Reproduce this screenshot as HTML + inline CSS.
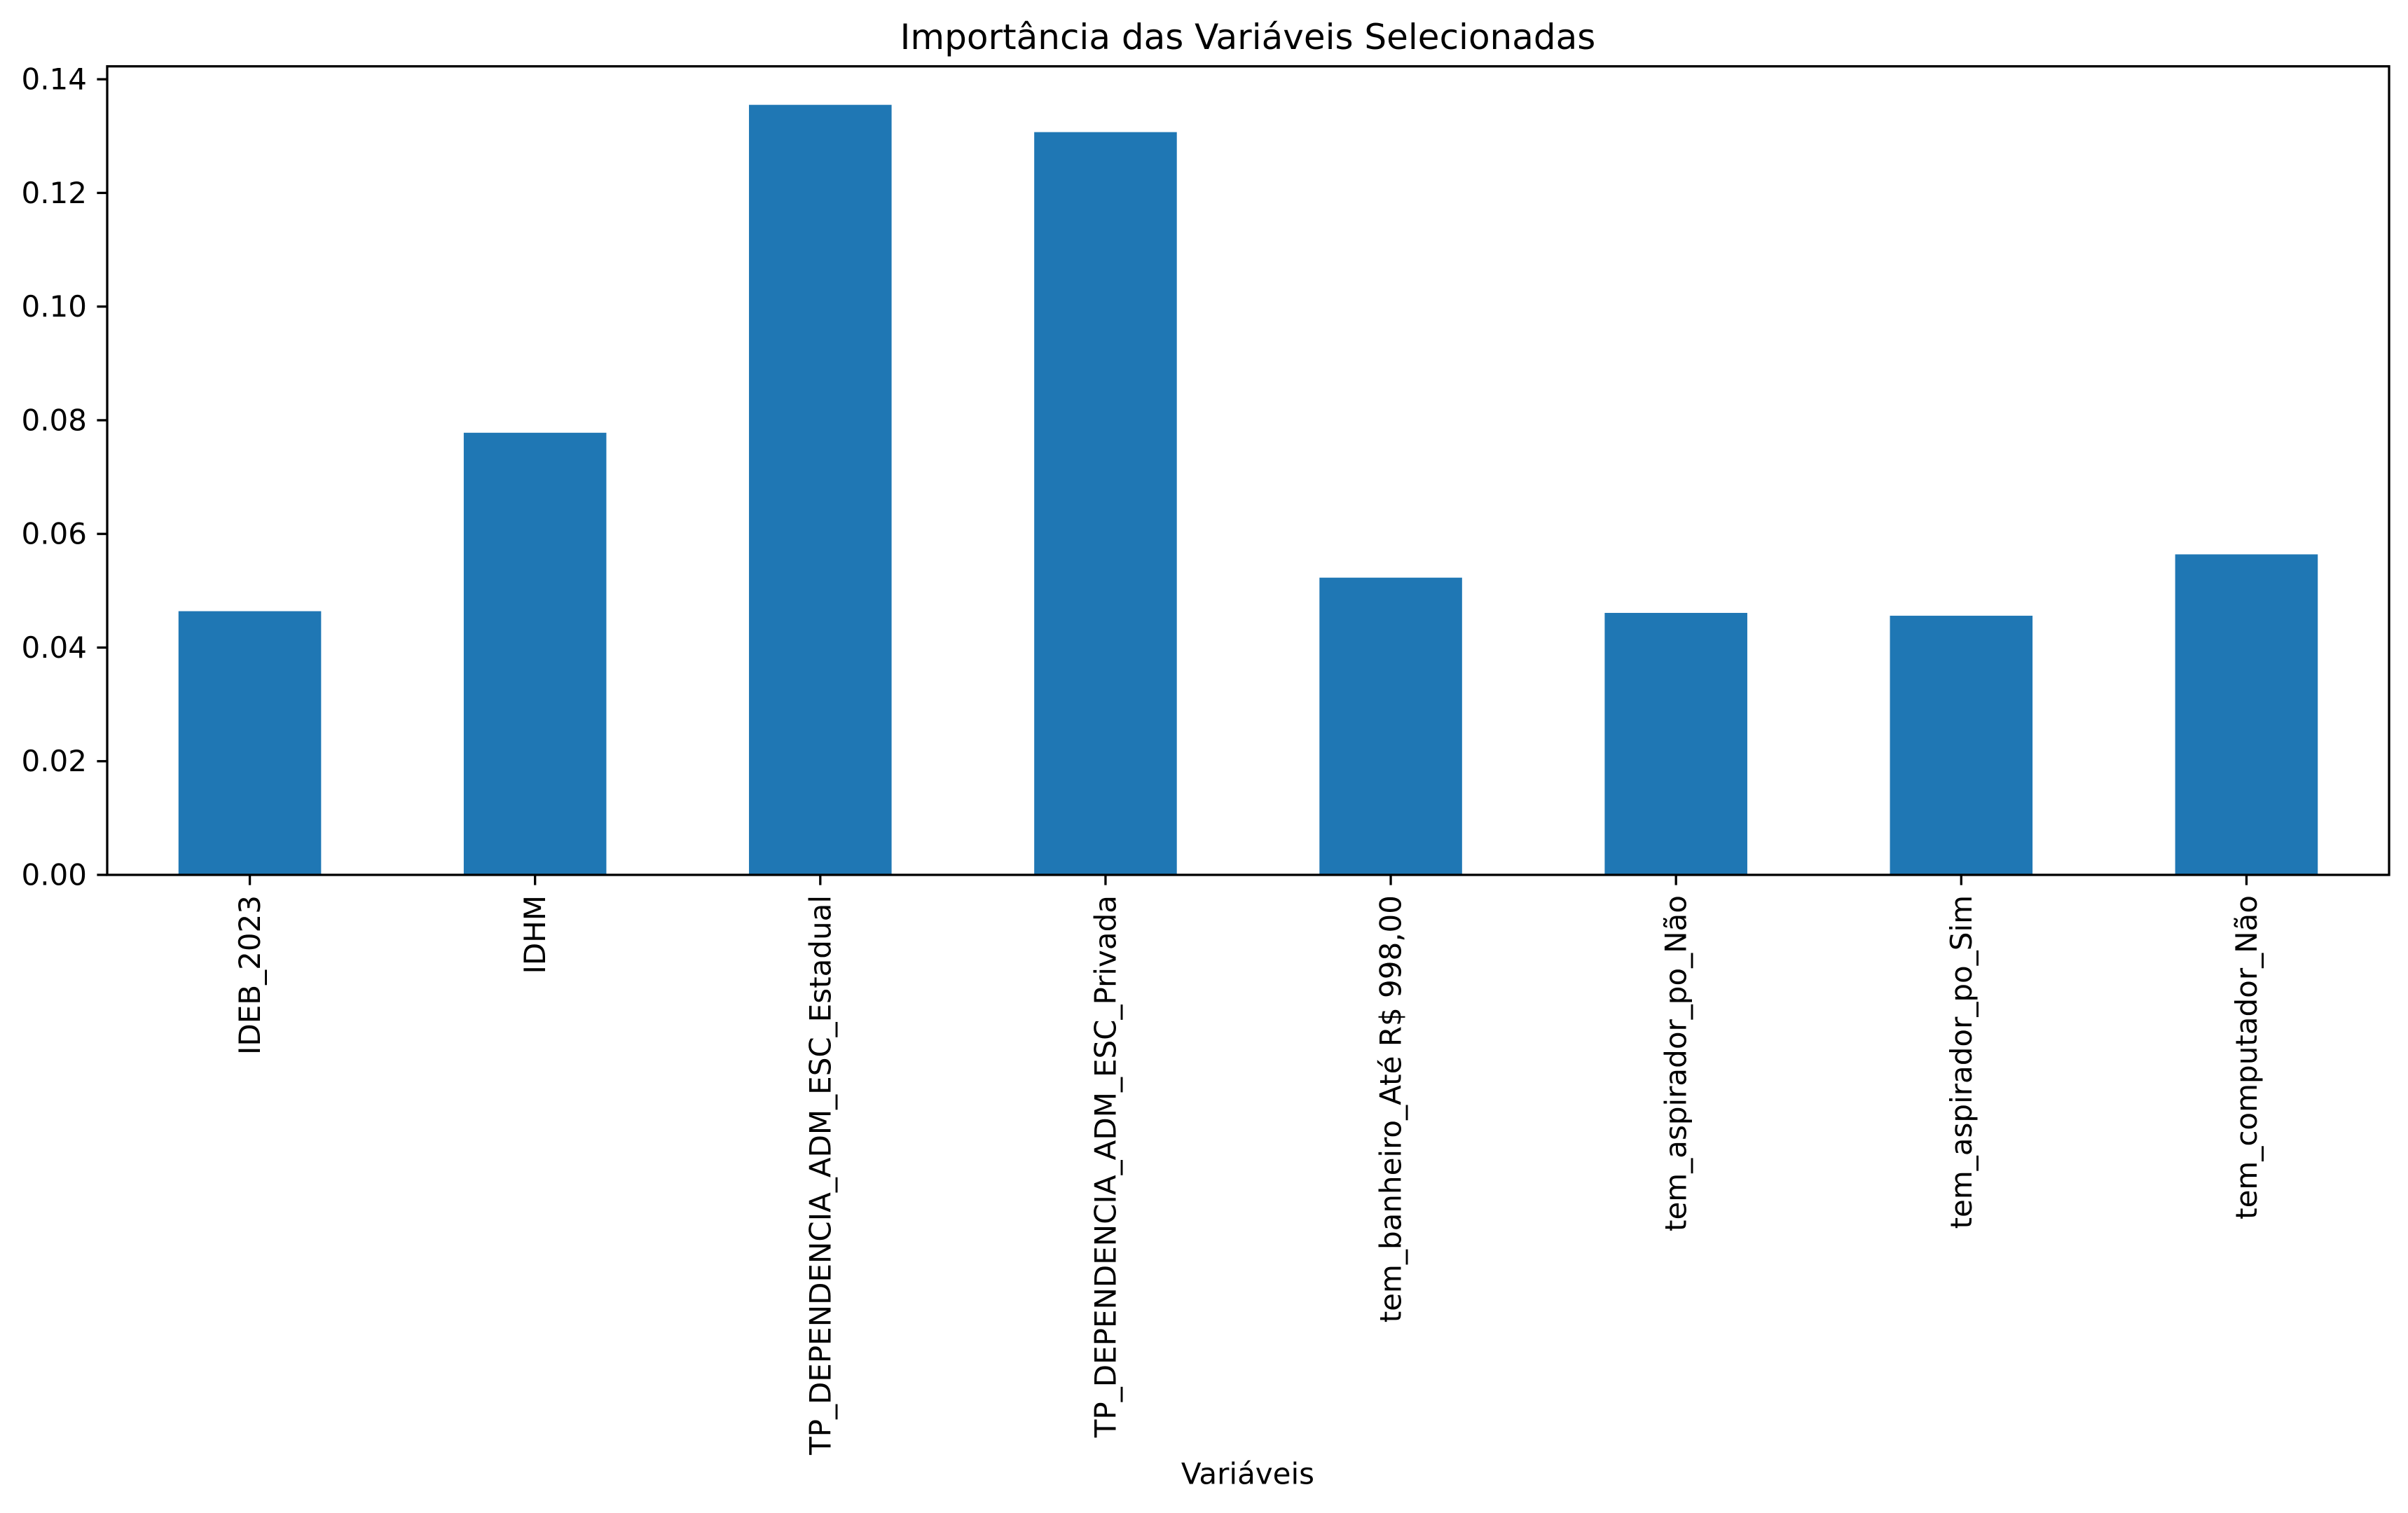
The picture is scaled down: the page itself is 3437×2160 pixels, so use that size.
<!DOCTYPE html>
<html><head><meta charset="utf-8"><style>
html,body{margin:0;padding:0;background:#fff}
svg{display:block}
text{font-family:"DejaVu Sans","Liberation Sans",sans-serif;fill:#000}
</style></head><body>
<svg id="chart" width="3437" height="2160" viewBox="0 0 3437 2160" xmlns="http://www.w3.org/2000/svg">
<rect width="3437" height="2160" fill="#fff"/>
<text x="1781" y="53" font-size="50" text-anchor="middle" dominant-baseline="central">Importância das Variáveis Selecionadas</text>
<g id="bars"></g><g id="yticks"></g><g id="xticks"></g>
<rect x="153" y="94.7" width="3257" height="1154.3" fill="none" stroke="#000" stroke-width="3.3"/>
<text x="1781" y="2104" font-size="42" text-anchor="middle" dominant-baseline="central">Variáveis</text>
</svg>
<script>
const categories = ["IDEB_2023","IDHM","TP_DEPENDENCIA_ADM_ESC_Estadual","TP_DEPENDENCIA_ADM_ESC_Privada","tem_banheiro_Até R$ 998,00","tem_aspirador_po_Não","tem_aspirador_po_Sim","tem_computador_Não"];
const values = [0.0464,0.0778,0.1355,0.1307,0.0523,0.0461,0.0456,0.0564];
const yTicks = [0,0.02,0.04,0.06,0.08,0.10,0.12,0.14];
const yTickLabels = ["0.00","0.02","0.04","0.06","0.08","0.10","0.12","0.14"];

const NS="http://www.w3.org/2000/svg";
const L=153,R=3410,T=94.7,B=1249;
const yMax=Math.max(...values)*1.05;
const y=v=>B-(v/yMax)*(B-T);
const step=(R-L)/categories.length;
const x=i=>L+step*(i+0.5);
function mk(t,a){const e=document.createElementNS(NS,t);for(const k in a)e.setAttribute(k,a[k]);return e;}
const bars=document.getElementById('bars'),yt=document.getElementById('yticks'),xt=document.getElementById('xticks');
values.forEach((v,i)=>{
  const r=mk('rect',{x:x(i)-step*0.25,y:y(v),width:step*0.5,height:B-y(v),fill:'#1f77b4'});
  
  
  bars.appendChild(r);
  const tk=mk('line',{x1:x(i),x2:x(i),y1:B,y2:B+14.6,stroke:'#000','stroke-width':3.3});
  
  
  xt.appendChild(tk);
  const tx=mk('text',{x:0,y:0,'font-size':42,'text-anchor':'end','dominant-baseline':'central',transform:`translate(${x(i)},${B+29})rotate(-90)`});
  tx.textContent=categories[i];
  
  
  xt.appendChild(tx);
});
yTicks.forEach((v,i)=>{
  const tk=mk('line',{x1:L-14.6,x2:L,y1:y(v),y2:y(v),stroke:'#000','stroke-width':3.3});
  
  
  yt.appendChild(tk);
  const tx=mk('text',{x:L-29,y:y(v),'font-size':42,'text-anchor':'end','dominant-baseline':'central'});
  tx.textContent=yTickLabels[i];
  
  
  yt.appendChild(tx);
});
</script>
</body></html>
